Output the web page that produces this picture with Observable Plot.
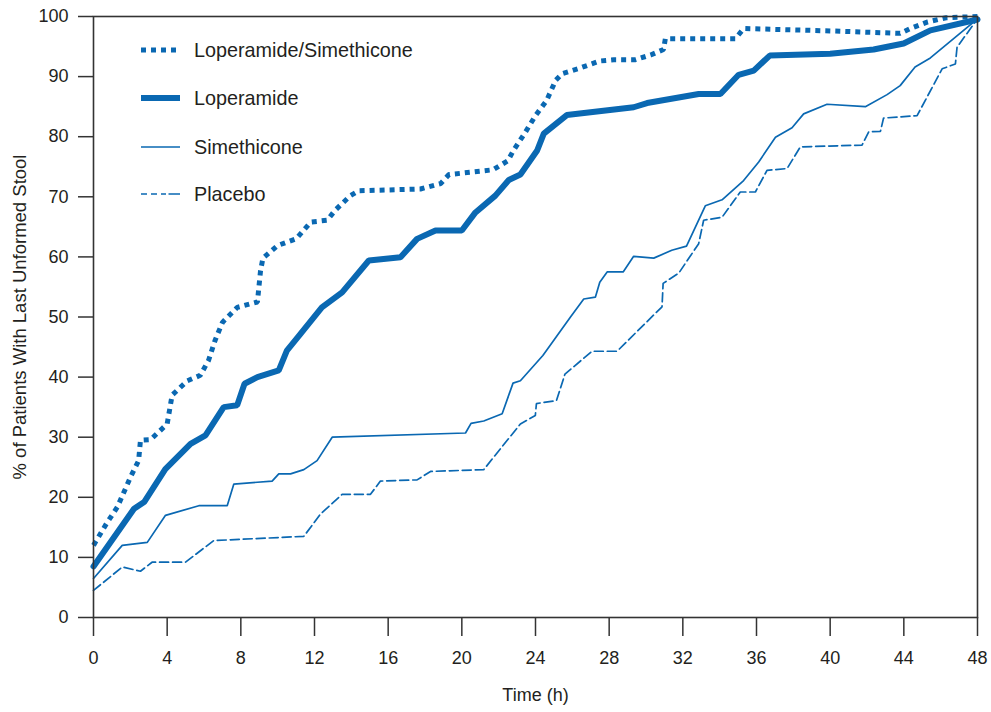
<!DOCTYPE html>
<html>
<head>
<meta charset="utf-8">
<script src="https://cdn.jsdelivr.net/npm/d3@7"></script>
<script src="https://cdn.jsdelivr.net/npm/@observablehq/plot@0.6"></script>
<style>
  body { margin: 0; background: #fff; }
  #wrap { position: relative; width: 991px; height: 712px; font-family: "Liberation Sans", Arial, sans-serif; }
  .row { position: absolute; left: 141px; height: 24px; display: flex; align-items: center; white-space: nowrap; font-size: 19.8px; color: #231f20; }
  .row svg { width: 40px; height: 12px; margin-right: 13px; overflow: visible; }
</style>
</head>
<body>
<div id="wrap"></div>
<script>
// ---- data (hours, % of patients) ----
const seriesNames = ["Loperamide/Simethicone", "Loperamide", "Simethicone", "Placebo"];

const hoursLS = [0, 0.7, 1.3, 2.0, 2.45, 2.55, 3.1, 4.0, 4.27, 5.1, 5.8, 6.25, 6.6, 7.0, 7.8, 8.9, 9.07, 9.2, 10.0, 11.0, 11.8, 12.7, 13.1, 13.95, 14.4, 17.75, 18.85, 19.3, 21.7, 22.5, 22.8, 23.4, 24.0, 24.6, 25.1, 25.45, 26.3, 27.5, 28.25, 29.4, 30.25, 30.95, 31.05, 34.85, 35.3, 40.0, 43.8, 44.35, 45.3, 46.3, 48];
const pctLS   = [12, 15.6, 18.4, 23.3, 26.1, 29.5, 29.6, 32.2, 37.0, 39.4, 40.3, 42.8, 46.1, 49.1, 51.6, 52.5, 57.7, 59.8, 61.9, 63.0, 65.8, 66.1, 67.7, 70.2, 71.0, 71.3, 72.2, 73.7, 74.5, 76.0, 77.7, 80.5, 83.5, 86.0, 89.4, 90.5, 91.3, 92.6, 92.8, 92.8, 93.6, 94.5, 96.3, 96.3, 98.0, 97.6, 97.2, 98.0, 99.1, 99.8, 100];

const hoursL = [0, 2.2, 2.75, 3.9, 5.27, 6.08, 7.07, 7.8, 8.2, 8.9, 10.06, 10.5, 11.24, 12.4, 13.5, 14.95, 16.67, 17.57, 18.57, 20.0, 20.74, 21.82, 22.55, 23.18, 24.09, 24.45, 25.7, 29.33, 30.06, 32.86, 34.04, 35.03, 35.85, 36.72, 40.0, 42.36, 43.99, 45.44, 48];
const pctL   = [8.5, 18.1, 19.2, 24.7, 28.9, 30.3, 35.0, 35.3, 38.9, 40.0, 41.1, 44.4, 47.2, 51.6, 54.1, 59.4, 59.95, 63.0, 64.4, 64.4, 67.4, 70.2, 72.8, 73.7, 77.7, 80.5, 83.6, 84.9, 85.6, 87.1, 87.1, 90.3, 91.0, 93.5, 93.8, 94.5, 95.5, 97.7, 99.5];

const hoursS = [0, 1.56, 2.92, 3.91, 5.72, 7.26, 7.62, 9.7, 10.06, 10.7, 11.42, 12.14, 12.96, 20.2, 20.5, 21.19, 22.19, 22.78, 23.18, 24.4, 25.9, 26.62, 27.25, 27.49, 27.89, 28.76, 29.33, 30.42, 31.4, 32.2, 33.22, 34.13, 35.3, 36.12, 37.03, 37.93, 38.56, 39.83, 41.91, 43.09, 43.8, 44.61, 45.44, 48];
const pctS   = [6.5, 12.0, 12.5, 17.0, 18.6, 18.6, 22.2, 22.7, 23.9, 23.9, 24.6, 26.1, 30.0, 30.7, 32.3, 32.7, 33.9, 39.0, 39.4, 43.6, 50.0, 53.0, 53.3, 55.8, 57.5, 57.5, 60.1, 59.8, 61.1, 61.8, 68.5, 69.5, 72.7, 75.8, 79.9, 81.5, 83.8, 85.4, 85.0, 87.0, 88.5, 91.6, 93.1, 99.6];

const hoursP = [0, 1.56, 2.55, 3.18, 4.99, 6.53, 11.42, 12.32, 13.5, 15.04, 15.58, 17.57, 18.3, 21.19, 22.1, 23.18, 23.99, 24.05, 25.14, 25.6, 27.07, 28.43, 30.87, 30.93, 31.78, 32.86, 33.13, 34.13, 35.12, 35.94, 36.57, 37.66, 38.38, 41.73, 42.09, 42.73, 42.9, 44.72, 46.08, 46.8, 46.89, 48];
const pctP   = [4.5, 8.4, 7.7, 9.2, 9.2, 12.8, 13.5, 17.2, 20.5, 20.5, 22.7, 22.9, 24.3, 24.6, 28.1, 32.2, 33.6, 35.6, 36.1, 40.5, 44.3, 44.3, 51.7, 55.6, 57.3, 62.2, 66.1, 66.6, 70.8, 70.8, 74.4, 74.7, 78.3, 78.6, 80.8, 80.9, 83.1, 83.5, 91.3, 92.1, 94.9, 99.6];

const xTicks = [0, 4, 8, 12, 16, 20, 24, 28, 32, 36, 40, 44, 48];
const yTicks = [0, 10, 20, 30, 40, 50, 60, 70, 80, 90, 100];
const xTitle = "Time (h)";
const yTitle = "% of Patients With Last Unformed Stool";

// ---- build rows ----
const zip = (hs, ps) => hs.map((t, i) => ({t, v: ps[i]}));
const rowsLS = zip(hoursLS, pctLS);
const rowsL = zip(hoursL, pctL);
const rowsS = zip(hoursS, pctS);
const rowsP = zip(hoursP, pctP);

const blue = "#0a68b2";
const ink = "#231f20";

const styles = [
  {strokeWidth: 5, strokeDasharray: "5,5", strokeLinecap: "butt"},
  {strokeWidth: 6},
  {strokeWidth: 1.7},
  {strokeWidth: 1.7, strokeDasharray: "9,4"}
];

const chart = Plot.plot({
  width: 991,
  height: 712,
  marginLeft: 93,
  marginRight: 14,
  marginTop: 16,
  marginBottom: 95,
  style: {fontFamily: '"Liberation Sans", Arial, sans-serif', fontSize: "18px", color: ink, background: "#fff"},
  x: {domain: [0, 48], ticks: xTicks, tickSize: 19, tickPadding: 15, label: null, tickFormat: d => String(d)},
  y: {domain: [0, 100], ticks: yTicks, tickSize: 15, tickPadding: 10, label: null, tickFormat: d => String(d)},
  marks: [
    Plot.line(rowsP, {x: "t", y: "v", stroke: blue, strokeLinejoin: "miter", ...styles[3]}),
    Plot.line(rowsS, {x: "t", y: "v", stroke: blue, strokeLinejoin: "miter", ...styles[2]}),
    Plot.line(rowsL, {x: "t", y: "v", stroke: blue, strokeLinejoin: "miter", ...styles[1]}),
    Plot.line(rowsLS, {x: "t", y: "v", stroke: blue, strokeLinejoin: "miter", ...styles[0]}),
    Plot.frame({stroke: "#333", strokeWidth: 1.6}),
    Plot.text([yTitle], {frameAnchor: "left", textAnchor: "middle", rotate: -90, dx: -73, fontSize: 18.5, fill: ink}),
    Plot.text([xTitle], {frameAnchor: "bottom", textAnchor: "middle", dy: 83, fontSize: 18, fill: ink})
  ]
});

const wrap = document.getElementById("wrap");
wrap.appendChild(chart);
chart.querySelectorAll('[aria-label="x-axis tick"], [aria-label="y-axis tick"]').forEach(g => {
  g.setAttribute("stroke-width", "1.5");
  g.setAttribute("stroke", "#333");
});

// ---- legend (inside plot, top-left) ----
const legendY = [50, 98, 147, 194];
const legendDash = ["5,5", null, null, "6,4,6,4,5,2.5,12"];
seriesNames.forEach((name, i) => {
  const row = document.createElement("div");
  row.className = "row";
  row.style.top = (legendY[i] - 12) + "px";
  const ns = "http://www.w3.org/2000/svg";
  const svg = document.createElementNS(ns, "svg");
  const ln = document.createElementNS(ns, "line");
  ln.setAttribute("x1", 0); ln.setAttribute("x2", 39);
  ln.setAttribute("y1", 6); ln.setAttribute("y2", 6);
  ln.setAttribute("stroke", blue);
  ln.setAttribute("stroke-width", styles[i].strokeWidth);
  if (legendDash[i]) ln.setAttribute("stroke-dasharray", legendDash[i]);
  svg.appendChild(ln);
  row.appendChild(svg);
  const span = document.createElement("span");
  span.textContent = name;
  row.appendChild(span);
  wrap.appendChild(row);
});
</script>
</body>
</html>
